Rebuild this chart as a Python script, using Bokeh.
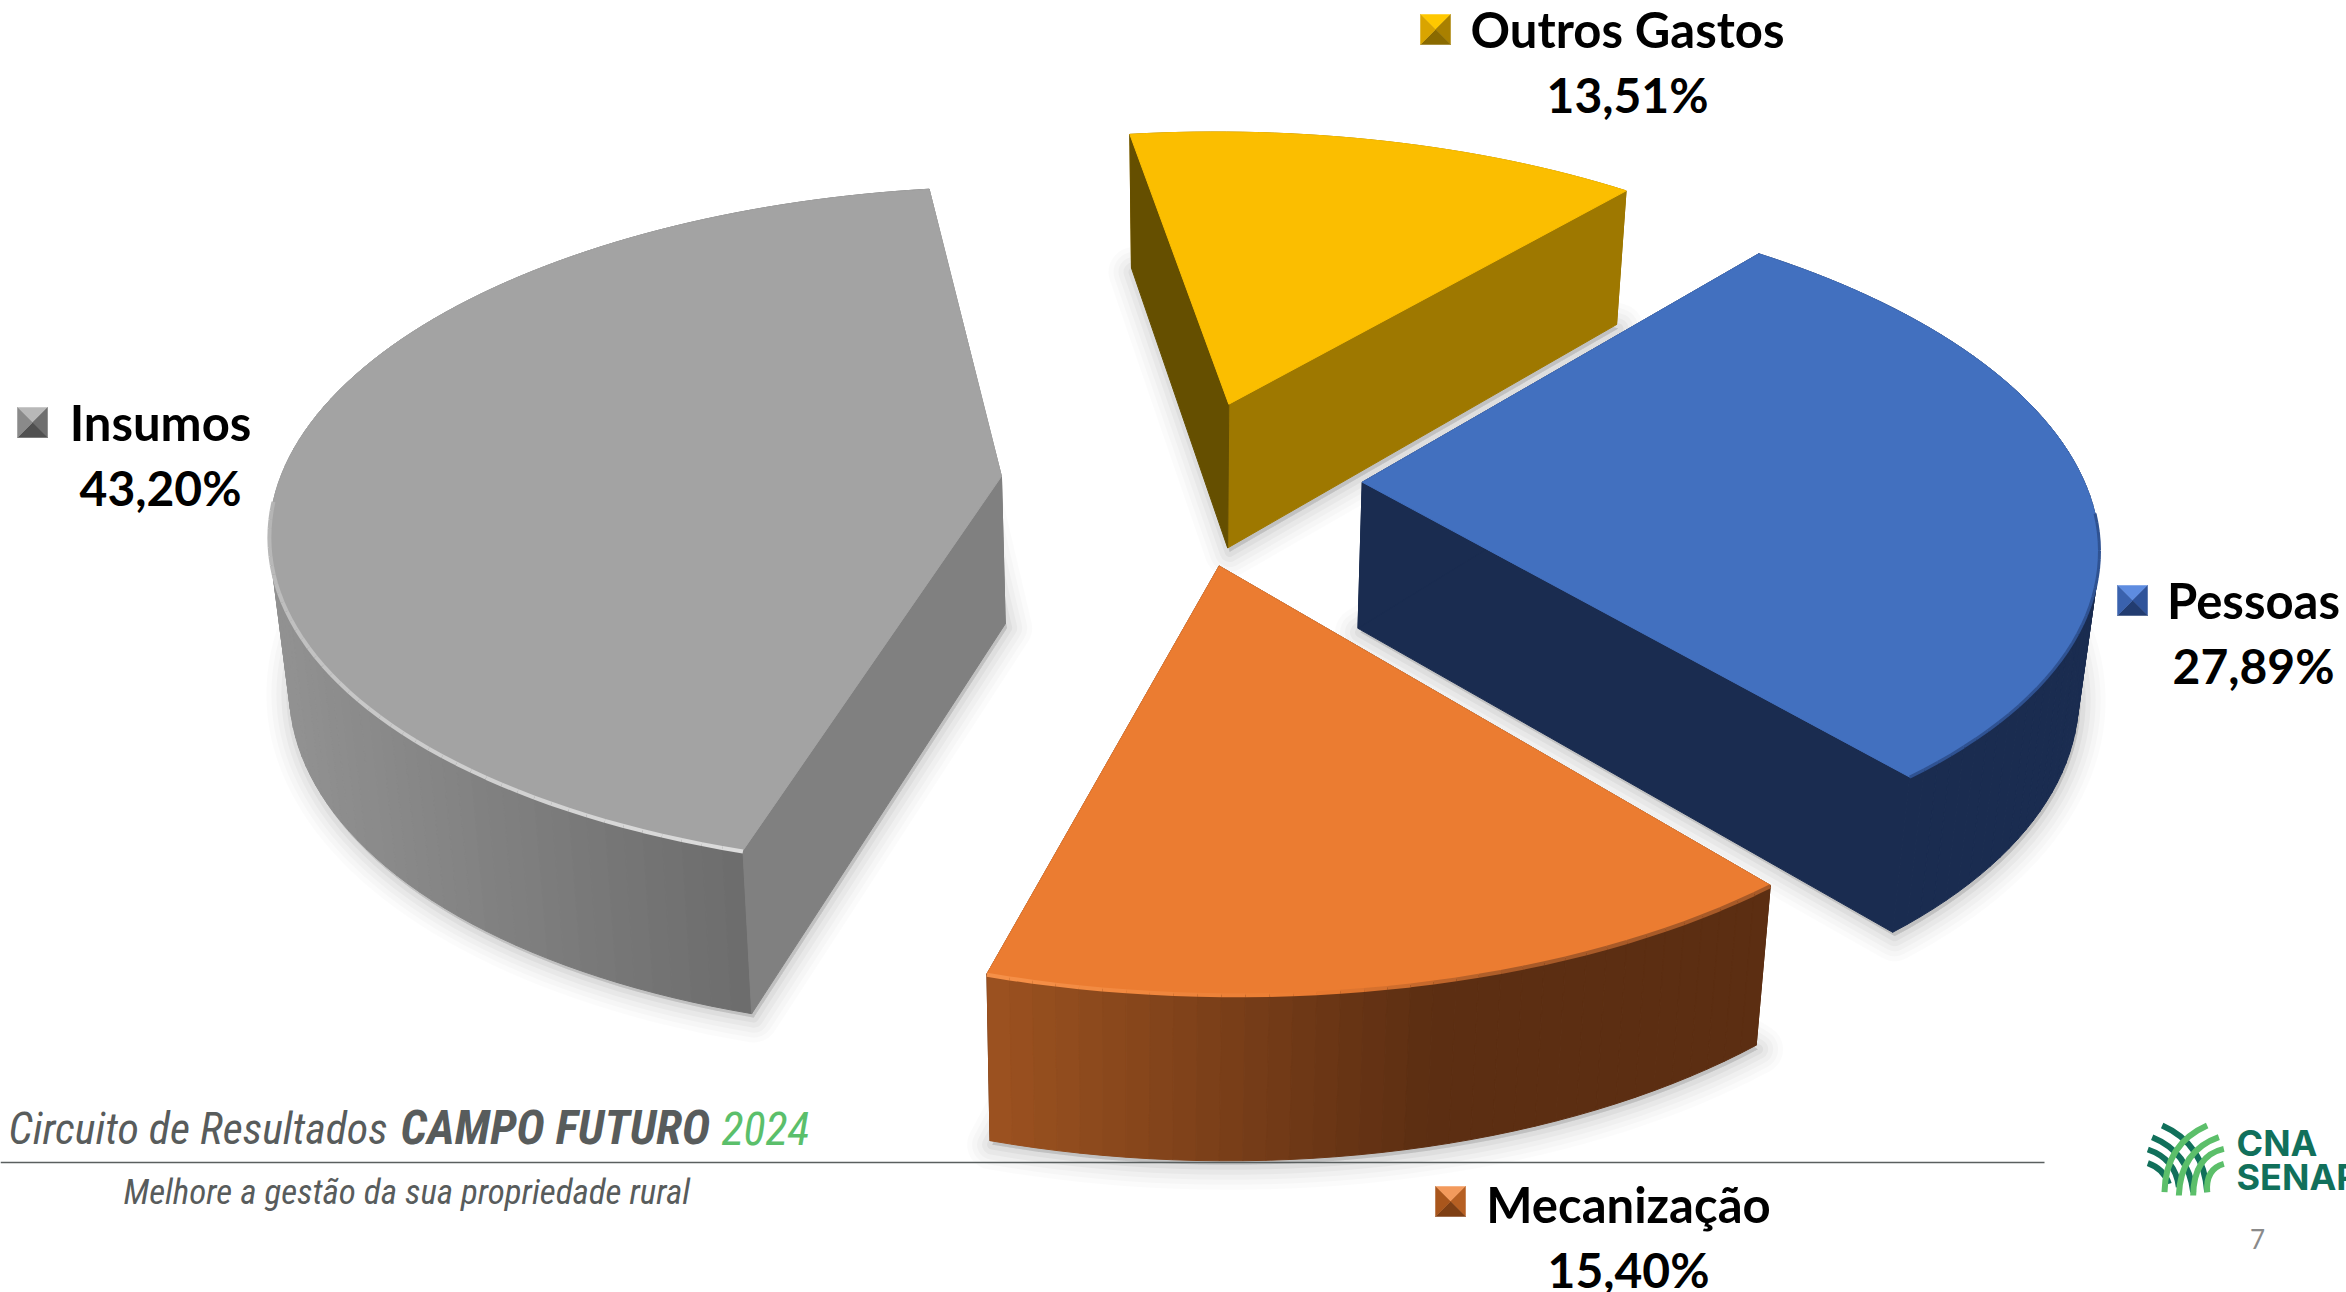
import numpy as np
from bokeh.plotting import figure
from bokeh.models import Range1d
from bokeh.core.properties import value
from bokeh.embed import file_html
from bokeh.resources import INLINE

categories=["Outros Gastos","Insumos","Mecanização","Pessoas"]
shares=[13.51,43.20,15.40,27.89]
labels=["13,51%","43,20%","15,40%","27,89%"]
top_colors=["#FBBE00","#A3A3A3","#EB7C31","#4270BF"]
sw=np.array(shares)/100*2*np.pi

# camera of the tilted pie: plane homography, first slice angle, exploded slice centres
H=(754.904,225.216,1249.53,16.3902,-277.85,617.416,-0.00932859,0.160427)
A0=0.921866
CENT=[(-0.0505305,0.620806),(-0.357274,0.37863),(-0.0456944,0.138368),(0.142747,0.390692)]
DX=(0.97776,-0.00201,27.0);DY=(-0.00443,1.03872,133.55391)
side_stops=[("#9E7800","#9E7800",0,1),("#929292","#6C6C6C",270,745),("#9C5220","#5C2E12",990,1430),("#1A2C50","#1A2C50",0,1)]
face_colors=[("#9E7800","#654F00"),("#808080","#808080"),("#5C2E12","#5C2E12"),("#1A2C50","#1A2C50")]

def proj(h,X,Y):
    a,b,c,d,e,f,g,i=h
    w=g*X+i*Y+1
    return (a*X+b*Y+c)/w,(d*X+e*Y+f)/w
def lerp(c1,c2,t):
    t=min(max(t,0),1)
    a=[int(c1[i:i+2],16) for i in (1,3,5)];b=[int(c2[i:i+2],16) for i in (1,3,5)]
    return "#%02x%02x%02x"%tuple(int(round(a[i]+(b[i]-a[i])*t)) for i in range(3))
def down(x,y):
    return DX[0]*x+DX[1]*y+DX[2],DY[0]*x+DY[1]*y+DY[2]

p_=figure(width=2346,height=1292,x_range=Range1d(0,2346),y_range=Range1d(1292,0),
          output_backend="svg",toolbar_location=None,min_border=0,outline_line_color=None)
p_.axis.visible=False;p_.grid.visible=False
p_.background_fill_color="white";p_.border_fill_color="white"

ss=[A0]
for k in range(3): ss.append(ss[-1]+sw[k])
geo=[]
for k in range(4):
    t=np.linspace(ss[k],ss[k]+sw[k],max(8,int(np.degrees(sw[k])/1.5))+1)
    cx,cy=CENT[k]
    ax,ay=proj(H,cx,cy)
    ox,oy=proj(H,cx+np.cos(t),cy+np.sin(t))
    bx,by=down(ox,oy);bax,bay=down(ax,ay)
    geo.append((t,ax,ay,ox,oy,bx,by,bax,bay))
# soft shadows under each slice
for w,al in [(50,.016),(40,.02),(30,.024),(20,.03),(10,.04)]:
    for k in range(4):
        t,ax,ay,ox,oy,bx,by,bax,bay=geo[k]
        p_.patch(np.r_[bax,bx]+2,np.r_[bay,by]+4,fill_color="black",fill_alpha=al,line_color="black",line_alpha=al,line_width=w,line_join="round")
def faces(k):
    t,ax,ay,ox,oy,bx,by,bax,bay=geo[k]
    fc=face_colors[k]
    for j,col in ((0,fc[0]),(-1,fc[1])):
        p_.patch([ax,ox[j],bx[j],bax],[ay,oy[j],by[j],bay],fill_color=col,line_color=col,line_width=1)
for k in [0,1,3,2]:
    t,ax,ay,ox,oy,bx,by,bax,bay=geo[k]
    if k==2: faces(k)
    c1,c2,x1,x2=side_stops[k]
    xs=[[ox[i],ox[i+1],bx[i+1],bx[i]] for i in range(len(t)-1)]
    ys=[[oy[i],oy[i+1],by[i+1],by[i]] for i in range(len(t)-1)]
    cs=[lerp(c1,c2,((ox[i]+ox[i+1])/2-x1)/(x2-x1)) for i in range(len(t)-1)]
    p_.patches(xs,ys,fill_color=cs,line_color=cs,line_width=1)
    if k!=2: faces(k)
    p_.patch(np.r_[ax,ox],np.r_[ay,oy],fill_color=top_colors[k],line_color=top_colors[k],line_width=1)
    n=len(t)
    if k==1:
        m=[i for i in range(n-1) if oy[i]>500]
        p_.multi_line([[ox[i],ox[i+1]] for i in m],[[oy[i]+1,oy[i+1]+1] for i in m],
            line_color=[lerp("#B4B4B4","#DCDCDC",(i-m[0])/(m[-1]-m[0])) for i in m],line_width=4)
    if k==2:
        m=list(range(n-1))
        cols=[lerp("#F59048","#EB7C31",(ox[i]-1000)/300) if ox[i]<1300 else lerp("#EB7C31","#A85A28",(ox[i]-1300)/200) for i in m]
        p_.multi_line([[ox[i],ox[i+1]] for i in m],[[oy[i]+1,oy[i+1]+1] for i in m],line_color=cols,line_width=4)
    if k==3:
        m=[i for i in range(n-1) if oy[i]>520]
        p_.multi_line([[ox[i],ox[i+1]] for i in m],[[oy[i],oy[i+1]] for i in m],line_color="#2F5292",line_width=3)

# legend keys
key_x=[1420,17,1435,2117];key_y=[14,407,1186,585]
key_shades=[("#FFC800","#A98000","#8A6A00","#D9A400"),("#B8B8B8","#6E6E6E","#505050","#8A8A8A"),("#F39A5C","#B65F22","#7E3F14","#A9561C"),("#5E8CE0","#2F539A","#223C70","#3A62AE")]
KS=30
for k in range(4):
    x0,y0=key_x[k],key_y[k];mx,my=x0+KS/2,y0+KS/2
    pts=[(x0,y0),(x0+KS,y0),(x0+KS,y0+KS),(x0,y0+KS)]
    for j in range(4):
        a,b=pts[j],pts[(j+1)%4]
        p_.patch([a[0],b[0],mx],[a[1],b[1],my],fill_color=key_shades[k][j],line_color=key_shades[k][j],line_width=0.5)

BASE=0.37  # the svg backend draws an alphabetic baseline this many em low
def tx(x,y,s,font,size,col,style="normal",align="left"):
    p_.text([x],[y-BASE*size],text=[s],text_font=value(font),text_font_size="%dpx"%size,text_color=col,text_font_style=style,text_align=align,text_baseline="alphabetic")

lab_x=[1627,160,1628,2253];lab_y=[47,440,1222,618]
for k in range(4):
    tx(lab_x[k],lab_y[k],categories[k],"Lato",49,"black","bold","center")
    tx(lab_x[k],lab_y[k]+65,labels[k],"Lato",48,"black","bold","center")

GR="#585C5C"
CF="Roboto Condensed"
tx(8,1145,"Circuito de Resultados",CF,44,GR,"italic")
tx(400,1145,"CAMPO FUTURO",CF,48,GR,"bold italic")
tx(721,1145,"2024",CF,46,"#5BBF6B","italic")
tx(123,1205,"Melhore a gestão da sua propriedade rural",CF,35,GR,"italic")
p_.line([0,2044],[1162,1162],line_color="#5A5F5F",line_width=1.5)

# logo
def lz(u,v): return 2040+u/3,1080+v/3
dark=[(365,135,490,190,500,335),(335,170,445,215,458,335),(322,207,405,235,415,320),(322,248,370,265,385,310)]
light=[(500,135,375,190,372,335),(535,170,420,210,415,345),(550,205,460,225,458,345),(550,250,495,265,500,335)]
for lst,col in ((dark,"#11705B"),(light,"#5CBF6A")):
    for a,b,c,d,e,f in lst:
        x0,y0=lz(a,b);cx_,cy_=lz(c,d);x1,y1=lz(e,f)
        p_.quadratic(x0=[x0],y0=[y0],cx=[cx_],cy=[cy_],x1=[x1],y1=[y1],line_color=col,line_width=6)
tx(2236,1156,"CNA","Inter",36,"#11705B","bold")
tx(2236,1190,"SENAR","Inter",36,"#11705B","bold")
tx(2257,1248,"7","Lato",26,"#8A8A8A","normal","center")

open("out.html","w").write(file_html(p_,INLINE))
